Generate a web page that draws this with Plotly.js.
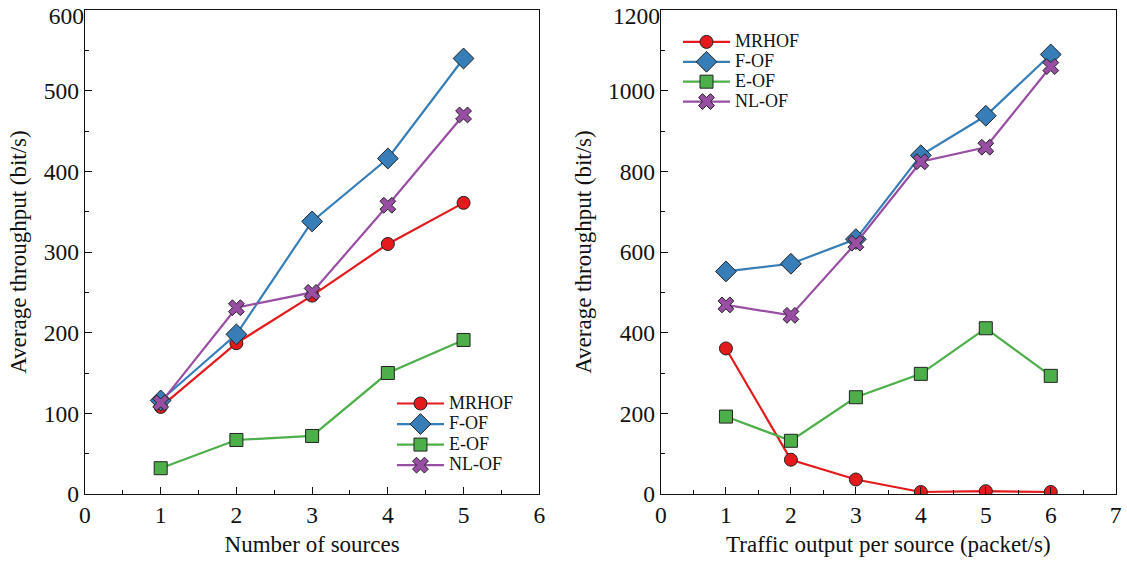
<!DOCTYPE html>
<html><head><meta charset="utf-8">
<script src="https://cdn.plot.ly/plotly-3.0.1.min.js"></script>
<style>html,body{margin:0;padding:0;background:#fff}#chart{width:1127px;height:561px}</style>
</head><body><div id="chart"></div>
<script>
const seriesNames = ["MRHOF", "F-OF", "E-OF", "NL-OF"];
const seriesColors = ["#e41a1c", "#377eb8", "#4daf4a", "#984ea3"];
const seriesSymbols = ["circle", "diamond", "square", "x"];
const seriesSizes = [13, 16, 13, 14];

const sources = [1, 2, 3, 4, 5];
const leftMRHOF = [108, 187, 246, 310, 361];
const leftFOF = [116, 198, 338, 416, 540];
const leftEOF = [32, 67, 72, 150, 191];
const leftNLOF = [113, 231, 250, 358, 470];

const traffic = [1, 2, 3, 4, 5, 6];
const rightMRHOF = [361, 85, 36, 5, 7, 5];
const rightFOF = [552, 571, 632, 840, 938, 1090];
const rightEOF = [192, 132, 240, 298, 411, 293];
const rightNLOF = [469, 443, 622, 824, 860, 1060];

// y tick labels (the top one is drawn slightly lowered, as in the reference)
const leftYTicks = [0, 100, 200, 300, 400, 500];
const leftYTop = [600];
const rightYTicks = [0, 200, 400, 600, 800, 1000];
const rightYTop = [1200];

const leftData = [leftMRHOF, leftFOF, leftEOF, leftNLOF];
const rightData = [rightMRHOF, rightFOF, rightEOF, rightNLOF];

const legendLabel = (n) => '<span style="font-size:18px">' + n + '</span>';

const traces = [];
leftData.forEach((ys, i) => {
  traces.push({x: sources, y: ys, type: 'scatter', mode: 'lines+markers', name: legendLabel(seriesNames[i]),
    xaxis: 'x', yaxis: 'y', legend: 'legend',
    line: {color: seriesColors[i], width: 2.2},
    marker: {symbol: seriesSymbols[i], size: seriesSizes[i], color: seriesColors[i], line: {color: '#222', width: 1}}});
});
rightData.forEach((ys, i) => {
  traces.push({x: traffic, y: ys, type: 'scatter', mode: 'lines+markers', name: legendLabel(seriesNames[i]),
    xaxis: 'x2', yaxis: 'y2', legend: 'legend2',
    line: {color: seriesColors[i], width: 2.2},
    marker: {symbol: seriesSymbols[i], size: seriesSizes[i], color: seriesColors[i], line: {color: '#222', width: 1}}});
});
// empty helper traces so the overlay label axes get drawn
traces.push({x: [], y: [], type: 'scatter', mode: 'markers', xaxis: 'x', yaxis: 'y3', showlegend: false, hoverinfo: 'skip'});
traces.push({x: [], y: [], type: 'scatter', mode: 'markers', xaxis: 'x2', yaxis: 'y4', showlegend: false, hoverinfo: 'skip'});

const fam = 'Liberation Serif, Times New Roman, serif';
const font = {family: fam, color: '#111'};
const tickfont = {family: fam, size: 23.5, color: '#111'};
function axis(extra) {
  return Object.assign({
    showline: true, linecolor: '#111', linewidth: 1.2, mirror: true,
    ticks: 'inside', ticklen: 7, tickwidth: 1, tickcolor: '#111',
    showgrid: false, zeroline: false, ticklabeloverflow: 'allow',
    tickfont: tickfont,
  }, extra);
}
function topLabelAxis(over, anchor, range, vals) {
  return {overlaying: over, anchor: anchor, side: 'left', range: range, autorange: false,
    tickmode: 'array', tickvals: vals, ticks: '', showline: false, showgrid: false,
    zeroline: false, ticklabelshift: 6, ticklabeloverflow: 'allow', tickfont: tickfont};
}
const ttl = (t, s) => ({text: t, standoff: s, font: {family: fam, size: 23, color: '#111'}});

const layout = {
  width: 1127, height: 561,
  margin: {l: 0, r: 0, t: 0, b: 0},
  paper_bgcolor: '#fff', plot_bgcolor: '#fff',
  font: font,
  xaxis: axis({domain: [0.0754, 0.4785], range: [0, 6], dtick: 1, anchor: 'y',
    minor: {ticks: 'inside', dtick: 0.5, ticklen: 4, tickcolor: '#111'},
    title: ttl('Number of sources', 8)}),
  yaxis: axis({domain: [0.1194, 0.982], range: [0, 600], tickmode: 'array', tickvals: leftYTicks, anchor: 'x',
    minor: {ticks: 'inside', tickmode: 'linear', tick0: 0, dtick: 50, ticklen: 4, tickcolor: '#111'},
    title: ttl('Average throughput (bit/s)', 10)}),
  yaxis3: topLabelAxis('y', 'x', [0, 600], leftYTop),
  xaxis2: axis({domain: [0.5865, 0.990], range: [0, 7], dtick: 1, anchor: 'y2',
    minor: {ticks: 'inside', dtick: 0.5, ticklen: 4, tickcolor: '#111'},
    title: ttl('Traffic output per source (packet/s)', 8)}),
  yaxis2: axis({domain: [0.1194, 0.982], range: [0, 1200], tickmode: 'array', tickvals: rightYTicks, anchor: 'x2',
    minor: {ticks: 'inside', tickmode: 'linear', tick0: 0, dtick: 100, ticklen: 4, tickcolor: '#111'},
    title: ttl('Average throughput (bit/s)', 10)}),
  yaxis4: topLabelAxis('y2', 'x2', [0, 1200], rightYTop),
  legend: {x: 0.3478, y: 0.308, xanchor: 'left', yanchor: 'top', bgcolor: 'rgba(0,0,0,0)',
    font: {family: fam, size: 13.5, color: '#111'}, tracegroupgap: 0, itemwidth: 47},
  legend2: {x: 0.6016, y: 0.952, xanchor: 'left', yanchor: 'top', bgcolor: 'rgba(0,0,0,0)',
    font: {family: fam, size: 13, color: '#111'}, tracegroupgap: 0, itemwidth: 47},
  showlegend: true
};

Plotly.newPlot('chart', traces, layout, {displayModeBar: false, staticPlot: true});
</script></body></html>
